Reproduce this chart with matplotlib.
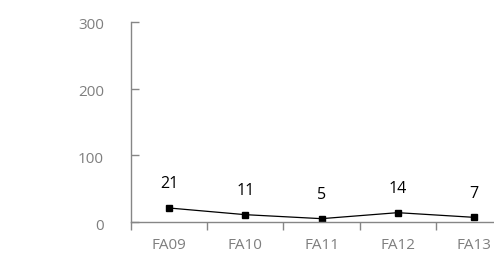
import matplotlib
matplotlib.use("Agg")
import matplotlib.pyplot as plt
import matplotlib.transforms as mtransforms

categories = ["FA09", "FA10", "FA11", "FA12", "FA13"]
values = [21, 11, 5, 14, 7]
yticks = [0, 100, 200, 300]

plt.rcParams['font.family'] = ['Open Sans', 'DejaVu Sans']

fig = plt.figure(figsize=(4.94, 2.67), dpi=100)
ax = fig.add_axes([131 / 494, 1 - 222 / 267, 381 / 494, 200 / 267])

x = list(range(len(categories)))
ax.plot(x, values, color='black', linewidth=0.9, marker='s', markersize=4.5)

# data labels above points
for xi, v in zip(x, values):
    ax.annotate(str(v), (xi, v), xytext=(0, 17), textcoords='offset points',
                ha='center', va='center', fontsize=11.5, color='black')

ax.set_xlim(-0.5, len(categories) - 0.5)
ax.set_ylim(0, 300)
ax.set_yticks(yticks)
ax.set_xticks(x)
ax.set_xticklabels(categories)
ax.set_xticks([i - 0.5 for i in range(len(categories) + 1)], minor=True)

grey = '#868686'
for side in ['top', 'right']:
    ax.spines[side].set_visible(False)
for side in ['left', 'bottom']:
    ax.spines[side].set_color(grey)
    ax.spines[side].set_linewidth(1.0)

ax.tick_params(axis='x', which='major', length=0, pad=11.5, labelsize=11, labelcolor='#7f7f7f')
ax.tick_params(axis='x', which='minor', length=6, direction='out', color=grey, width=1.0)
ax.tick_params(axis='y', length=6, direction='in', color=grey, width=1.0, pad=19.5,
               labelsize=11, labelcolor='#7f7f7f')

# nudge y labels down a little, like the excel original
shift = mtransforms.ScaledTranslation(0, -2 / 100, fig.dpi_scale_trans)
for lbl in ax.get_yticklabels():
    lbl.set_transform(lbl.get_transform() + shift)

fig.savefig('out.png', dpi=100)
